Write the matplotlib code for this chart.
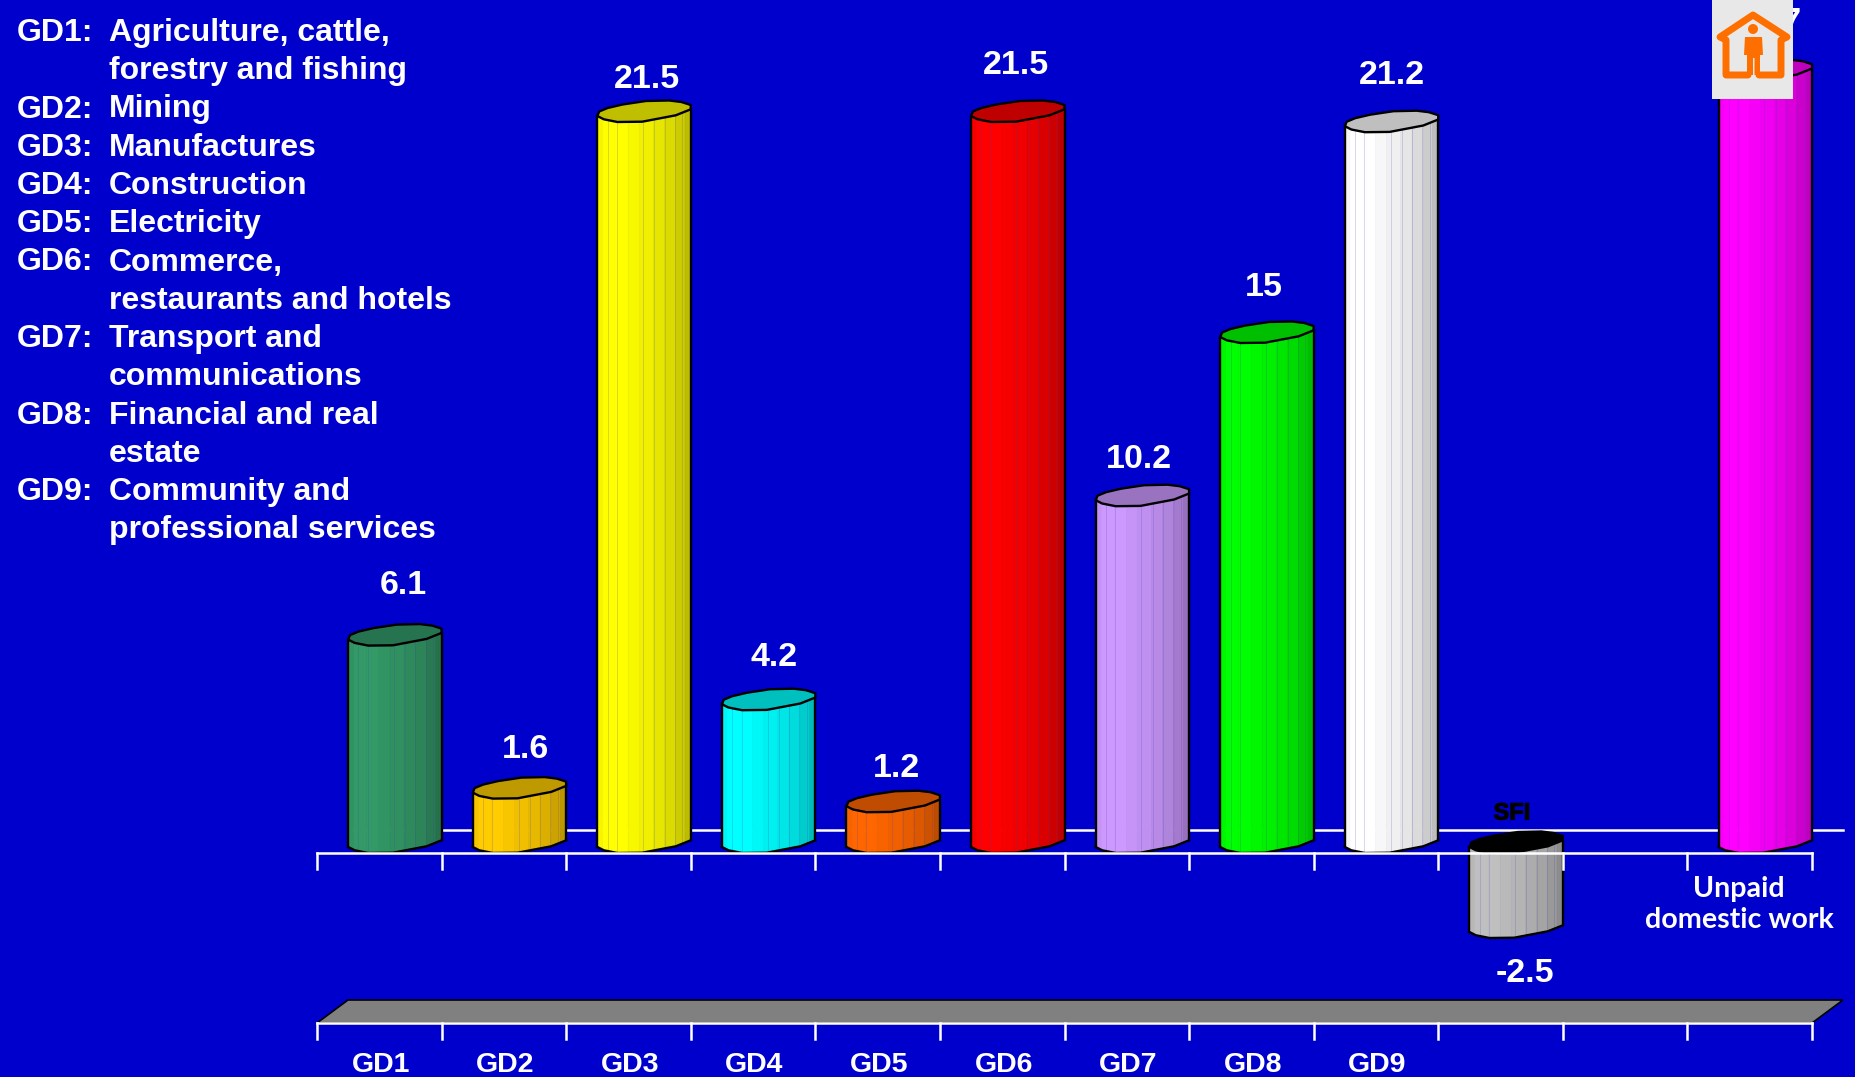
import numpy as np
import matplotlib
matplotlib.use("Agg")
import matplotlib.pyplot as plt
import matplotlib.patheffects as pe
from matplotlib.patches import Circle, Polygon, Rectangle
from matplotlib.transforms import Affine2D

# --- data ---------------------------------------------------------------------
tick_labels = ["GD1", "GD2", "GD3", "GD4", "GD5", "GD6", "GD7", "GD8", "GD9"]
slots = [0, 1, 2, 3, 4, 5, 6, 7, 8, 9, 11]
values = [6.1, 1.6, 21.5, 4.2, 1.2, 21.5, 10.2, 15, 21.2, -2.5, 22.7]
value_labels = ["6.1", "1.6", "21.5", "4.2", "1.2", "21.5", "10.2", "15", "21.2", "-2.5", "22.7"]
body_colors = ["#339966", "#FFCC00", "#FFFF00", "#00FFFF", "#FF6600", "#FF0000",
               "#CC99FF", "#00FF00", "#FFFFFF", "#BFBFBF", "#FF00FF"]
cap_colors = ["#267350", "#BF9900", "#BFBF00", "#00BFBF", "#BF4C00", "#BF0000",
              "#9973BF", "#00BF00", "#BFBFBF", "#000000", "#BF00BF"]
legend_keys = ["GD1:", "", "GD2:", "GD3:", "GD4:", "GD5:", "GD6:", "", "GD7:", "", "GD8:", "", "GD9:", ""]
legend_texts = ["Agriculture, cattle,", "forestry and fishing", "Mining", "Manufactures",
                "Construction", "Electricity", "Commerce,", "restaurants and hotels",
                "Transport and", "communications", "Financial and real", "estate",
                "Community and", "professional services"]

# --- layout (pixels of the 1855x1077 canvas) ------------------------------------
W, H = 1855, 1077
AXIS_LEFT, AXIS_RIGHT = 317, 1812
N_SLOTS = 12
SLOT_PX = (AXIS_RIGHT - AXIS_LEFT) / N_SLOTS
PX_PER_UNIT = 34.0
ZERO_Y = 847
BAR_LEFT, BAR_WIDTH = 0.25, 0.75
BG = "#0000CC"
# label offset from the bar centre and its top-left corner
label_dx = [9, 6, 3, 5, 3, -2, -3, -3, 0, 9, 4]
label_dy = [54, 43, 37, 47, 38, 51, 41, 50, 51, -42, 53]

# cylinder outline, (fraction of width, pixels below the left corner)
FRONT_U = [0, .07, .215, .48, .84, 1]
FRONT_PX = [0, 3.3, 6, 5.7, -.7, -6.7]
BACK_U = [0, .02, .11, .27, .52, .77, .9, 1]
BACK_PX = [0, -4.5, -8, -11.5, -15, -15.5, -14, -11]
BAND_EDGES = [0, .06, .2, .33, .45, .6, .72, .84, .94, 1]
BAND_SHADES = [.96, 1, 1, .97, .94, .9, .86, .8, .74]
SEAMS = [.11, .21, .49, .61, .72, .83, .91]

plt.rcParams["font.family"] = ["Liberation Sans", "DejaVu Sans"]
fig = plt.figure(figsize=(W / 100, H / 100), dpi=100, facecolor=BG)
ax = fig.add_axes([0, 0, 1, 1])
ax.set_xlim(-AXIS_LEFT / SLOT_PX, (W - AXIS_LEFT) / SLOT_PX)
ax.set_ylim(-(H - ZERO_Y) / PX_PER_UNIT, ZERO_Y / PX_PER_UNIT)
ax.axis("off")
# screen coordinates for everything that is not a data mark, y going down
px = Affine2D().scale(1, -1).translate(0, H)


def shaded(color, k):
    return tuple(min(1, c * k) for c in matplotlib.colors.to_rgb(color))


def draw_cylinder(slot, value, body, cap):
    x0 = slot + BAR_LEFT
    top, bottom = max(value, 0), min(value, 0)
    us = np.array(FRONT_U)
    front = -np.array(FRONT_PX) / PX_PER_UNIT
    for k, (u0, u1) in enumerate(zip(BAND_EDGES[:-1], BAND_EDGES[1:])):
        uu = np.unique(np.r_[u0, u1, us[(us > u0) & (us < u1)]])
        off = np.interp(uu, us, front)
        xs = x0 + uu * BAR_WIDTH
        pts = np.r_[np.c_[xs, bottom + off], np.c_[xs, top + off][::-1]]
        col = shaded(body, BAND_SHADES[k])
        ax.add_patch(Polygon(pts, closed=True, fc=col, ec=col, lw=0.6, zorder=3))
    for u in SEAMS:
        off = np.interp(u, us, front)
        ax.plot([x0 + u * BAR_WIDTH] * 2, [bottom + off, top + off],
                color="#4040C0", alpha=0.2, lw=0.7, zorder=3.1)
    # top face
    back = -np.array(BACK_PX) / PX_PER_UNIT
    ring = np.r_[np.c_[x0 + us * BAR_WIDTH, top + front],
                 np.c_[x0 + np.array(BACK_U) * BAR_WIDTH, top + back][::-1]]
    ax.add_patch(Polygon(ring, closed=True, fc=cap, ec="black", lw=1.7, joinstyle="round", zorder=3.2))
    # sides and bottom edge
    ax.plot(x0 + us * BAR_WIDTH, bottom + front, color="black", lw=1.7, zorder=3.2)
    ax.plot([x0, x0], [bottom, top], color="black", lw=1.7, zorder=3.2)
    ax.plot([x0 + BAR_WIDTH] * 2, [bottom + front[-1], top + front[-1]], color="black", lw=1.7, zorder=3.2)


# back wall line, drawn behind the bars
ax.plot([348, 1843], [830, 830], color="white", lw=1.8, transform=px, zorder=2)

for s, v, b, c in zip(slots, values, body_colors, cap_colors):
    draw_cylinder(s, v, b, c)

# upper axis and lower floor
ax.plot([317, 1812], [853, 853], color="white", lw=1.8, transform=px, zorder=4)
ax.add_patch(Polygon([(317, 1023), (348, 1000), (1843, 1000), (1812, 1023)], closed=True,
                     fc="#808080", ec="black", lw=1.2, transform=px, zorder=2))
ax.plot([317, 1812], [1023, 1023], color="white", lw=1.8, transform=px, zorder=4)
for i in range(N_SLOTS + 1):
    tx = AXIS_LEFT + i * SLOT_PX
    ax.plot([tx, tx], [853, 869], color="white", lw=1.8, transform=px, zorder=4)
    ax.plot([tx, tx], [1023, 1039], color="white", lw=1.8, transform=px, zorder=4)

for i, lab in enumerate(tick_labels):
    ax.text(AXIS_LEFT + (i + 0.5) * SLOT_PX + 1.5, 1065, lab, color="white", fontsize=20.5, fontweight="bold",
            ha="center", va="center", transform=px)

# value labels
for s, v, t, dx, dy in zip(slots, values, value_labels, label_dx, label_dy):
    ax.annotate(t, xy=(s + BAR_LEFT + BAR_WIDTH / 2, v), xytext=(dx, dy), textcoords="offset pixels",
                color="white", fontsize=24.5, fontweight="bold", ha="center", va="center", zorder=5)

ax.text(1512, 813, "SFI", color="black", fontsize=17, fontweight="bold", ha="center", va="center",
        path_effects=[pe.withStroke(linewidth=0.8, foreground="black")], transform=px, zorder=5)
for y, t in zip([889, 920], ["Unpaid", "domestic work"]):
    ax.text(1739, y, t, color="white", fontsize=20.6, fontweight="bold", ha="center", va="center",
            family=["Lato", "DejaVu Sans"], transform=px, zorder=5)

# sector key, top left
for i, (k, t) in enumerate(zip(legend_keys, legend_texts)):
    y = 33 + i * 38.25
    if k:
        ax.text(17, y, k, color="white", fontsize=23, fontweight="bold", va="center", transform=px, zorder=5)
    ax.text(109, y, t, color="white", fontsize=23, fontweight="bold", va="center", transform=px, zorder=5)

# house logo in the corner
ax.add_patch(Rectangle((1712, 0), 81, 99, fc="#E8E8E8", ec="none", transform=px, zorder=6))
ORANGE = "#FF6F00"
house_x = [1748, 1745, 1726, 1726, 1720, 1753, 1787, 1781, 1781, 1762, 1759]
house_y = [75, 75, 75, 40, 37, 15, 37, 40, 75, 75, 75]
ax.plot(house_x, house_y, color=ORANGE, lw=5, solid_joinstyle="round", solid_capstyle="round", transform=px, zorder=7)
ax.add_patch(Circle((1753, 29), 5, fc=ORANGE, ec="none", transform=px, zorder=7))
ax.add_patch(Polygon([(1745, 37), (1762, 37), (1763, 55), (1760, 55), (1760, 75), (1754.5, 75), (1754.5, 58),
                      (1753, 58), (1753, 75), (1747, 75), (1747, 55), (1744, 55)],
                     closed=True, fc=ORANGE, ec="none", transform=px, zorder=7))

fig.savefig("out.png", dpi=100, facecolor=BG)
